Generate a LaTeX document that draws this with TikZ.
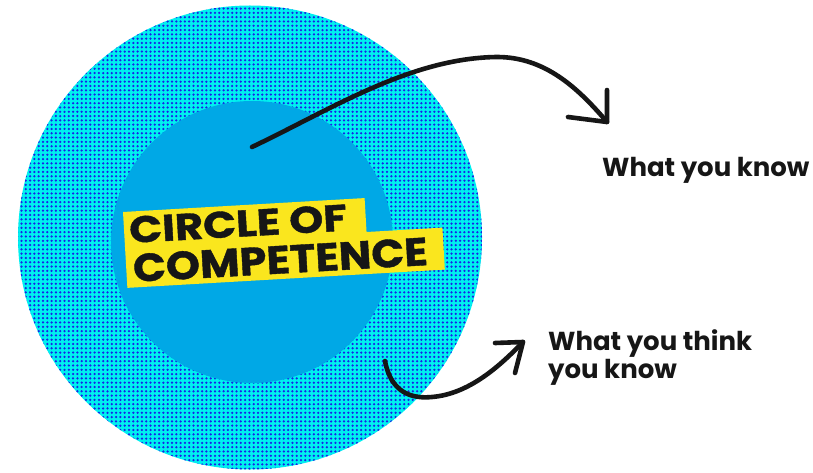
\documentclass[tikz,border=0pt]{standalone}
\usepackage{fontspec}
\setmainfont{Poppins}
\usetikzlibrary{patterns.meta}
\definecolor{innerblue}{RGB}{0,168,230}
\definecolor{cyanbg}{RGB}{0,240,240}
\definecolor{dotblue}{RGB}{25,35,230}
\definecolor{labelyellow}{RGB}{250,230,30}
\definecolor{ink}{RGB}{22,22,22}
\begin{document}
\begin{tikzpicture}[x=1pt,y=-1pt,
  arrowline/.style={draw=ink, line width=4.6pt, line cap=round, line join=round},
  sidelabel/.style={anchor=base west, inner sep=0pt, text=ink, align=left,
    font=\bfseries\fontsize{26}{26}\selectfont},
  titletext/.style={anchor=base west, inner sep=0pt, text=ink, transform shape,
    align=left, font=\bfseries\addfontfeatures{FakeBold=1}\fontsize{30}{39.1}\selectfont},
  yellowbox/.style={fill=labelyellow}]
\useasboundingbox (0,0) rectangle (813,473);
\fill[white] (0,0) rectangle (813,473);
% circles
\node[circle, inner sep=0pt, minimum size=464pt, fill=cyanbg,
  postaction={pattern={Dots[distance=4.3pt,radius=1.25pt]}, pattern color=dotblue}]
  (outer) at (250,237.5) {};
\node[circle, inner sep=0pt, minimum size=282pt, fill=innerblue] (inner) at (252,242) {};
% title label
\begin{scope}[shift={(123,212)}, rotate=3.3]
  \fill[yellowbox] (0,0) rectangle (242,38);
  \fill[yellowbox] (0,34) rectangle (318,76);
  \node[titletext] (title) at (5,70.5)
    {\resizebox{218pt}{26.5pt}{CIRCLE OF}\\\hspace*{1.6pt}\resizebox{295pt}{28pt}{COMPETENCE}};
\end{scope}
% side labels
\node[sidelabel] (know) at (602,177) {What you know};
\node[sidelabel] (think) at (548,378) {What you think\\you know};
% arrows
\coordinate (a1s) at (252,147);
\coordinate (a1t) at (607,122);
\coordinate (a2s) at (385,361);
\coordinate (a2t) at (523,342);
\draw[arrowline] (a1s) .. controls (330,110) and (410,58) .. (497,57)
  .. controls (545,57) and (578,88) .. (a1t);
\draw[arrowline] (a1t) ++(0,-32) -- (a1t) -- ++(-39,-5);
\draw[arrowline] (a2s) .. controls (391,393) and (412,399) .. (432,397)
  .. controls (468,394) and (498,368) .. (a2t);
\draw[arrowline] (a2t) ++(-28,1) -- (a2t) -- ++(-8,31);
\end{tikzpicture}
\end{document}
